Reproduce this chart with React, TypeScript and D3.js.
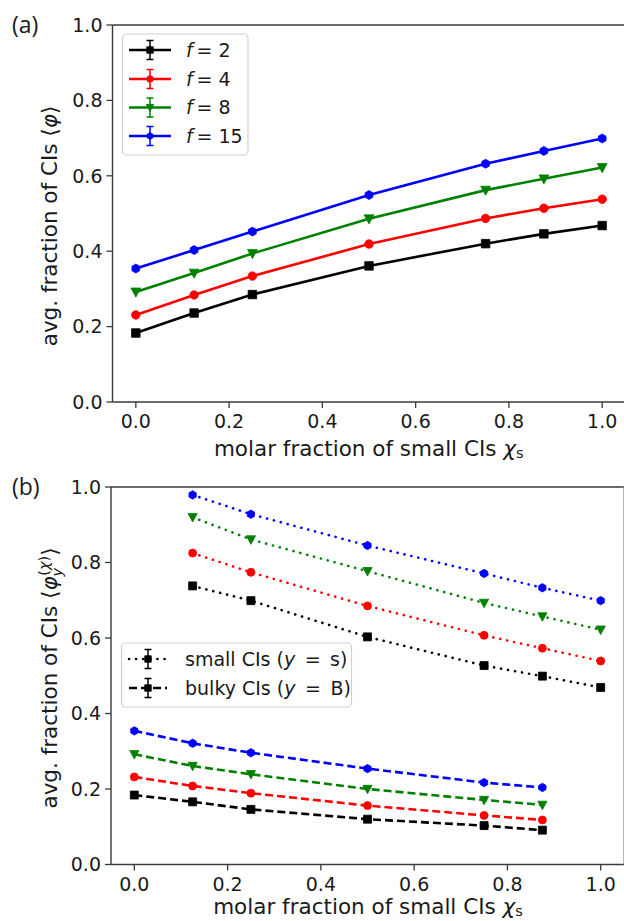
import React from 'react';
import * as d3 from 'd3';

// ---------- data ----------
const xAll = [0, 0.125, 0.25, 0.5, 0.75, 0.875, 1.0];
const xSmall = [0.125, 0.25, 0.5, 0.75, 0.875, 1.0];
const xBulky = [0, 0.125, 0.25, 0.5, 0.75, 0.875];

const fLabels = ['2', '4', '8', '15'];
const seriesColors = ['#000000', '#ff0000', '#008000', '#0000ff'];
const seriesMarkers = ['square', 'circle', 'triangleDown', 'hexagon'];

const totalF2 = [0.183, 0.236, 0.285, 0.361, 0.420, 0.446, 0.468];
const totalF4 = [0.231, 0.284, 0.334, 0.419, 0.487, 0.514, 0.538];
const totalF8 = [0.292, 0.342, 0.394, 0.486, 0.562, 0.592, 0.622];
const totalF15 = [0.354, 0.403, 0.452, 0.549, 0.632, 0.666, 0.699];

const smallF2 = [0.738, 0.699, 0.603, 0.527, 0.499, 0.469];
const smallF4 = [0.825, 0.774, 0.685, 0.607, 0.573, 0.539];
const smallF8 = [0.920, 0.861, 0.777, 0.693, 0.657, 0.622];
const smallF15 = [0.979, 0.928, 0.845, 0.771, 0.733, 0.699];

const bulkyF2 = [0.184, 0.166, 0.146, 0.120, 0.103, 0.091];
const bulkyF4 = [0.232, 0.208, 0.189, 0.156, 0.130, 0.118];
const bulkyF8 = [0.292, 0.261, 0.239, 0.200, 0.171, 0.158];
const bulkyF15 = [0.354, 0.321, 0.296, 0.254, 0.217, 0.204];

const xTicks = [0, 0.2, 0.4, 0.6, 0.8, 1.0];
const yTicks = [0, 0.2, 0.4, 0.6, 0.8, 1.0];
const legendStyles = ['small CIs (', 'bulky CIs ('];
const legendEnds = ['\u2002=\u2002s)', '\u2002=\u2002B)'];

const totals = [totalF2, totalF4, totalF8, totalF15];
const smalls = [smallF2, smallF4, smallF8, smallF15];
const bulkies = [bulkyF2, bulkyF4, bulkyF8, bulkyF15];

const FONT = 'DejaVu Sans';
const SPINE = '#3a3a3a';
const TEXT = '#1a1a1a';
const LABEL_SIZE = 21.5;

function markerPath(kind: string, size: number): string {
  const r = size / 2;
  if (kind === 'square') return `M${-r},${-r}H${r}V${r}H${-r}Z`;
  if (kind === 'circle') return d3.symbol(d3.symbolCircle, Math.PI * r * r)() as string;
  if (kind === 'triangleDown') {
    const h = r * 1.15;
    return `M${-h},${-h * 0.8}L${h},${-h * 0.8}L0,${h * 1.05}Z`;
  }
  const pts = d3.range(6).map((i) => {
    const a = -Math.PI / 2 + (i * Math.PI) / 3;
    return [Math.cos(a) * r * 1.05, Math.sin(a) * r * 1.05];
  });
  return 'M' + pts.map((p) => p.join(',')).join('L') + 'Z';
}

type Series = { xs: number[]; ys: number[]; color: string; marker: string; dash?: string };
const DOT = '0.1,7';
const DASH = '8,4';

function Panel(props: {
  left: number; right: number; top: number; bottom: number;
  series: Series[]; markerSize: number; rightSpine?: boolean; xLabelOffset: number;
  yLabel: React.ReactNode; yLabelY: number; panelTag: string;
  children?: React.ReactNode;
}) {
  const { left, right, top, bottom, series, markerSize } = props;
  const x = d3.scaleLinear().domain([-0.05, 1.05]).range([left, right]);
  const y = d3.scaleLinear().domain([0, 1]).range([bottom, top]);
  const line = d3.line<[number, number]>().x((d) => x(d[0])).y((d) => y(d[1]));
  return (
    <g>
      {series.map((s, i) => (
        <g key={i}>
          <path
            d={line(s.xs.map((v, j) => [v, s.ys[j]] as [number, number])) as string}
            fill="none" stroke={s.color} strokeWidth={2.6}
            strokeDasharray={s.dash} strokeLinecap={s.dash === DOT ? 'round' : 'butt'}
          />
          {s.xs.map((v, j) => (
            <path key={j} d={markerPath(s.marker, markerSize)}
              transform={`translate(${x(v)},${y(s.ys[j])})`} fill={s.color} stroke={s.color} strokeWidth={0.8} />
          ))}
        </g>
      ))}
      <line x1={left} x2={left} y1={top} y2={bottom} stroke={SPINE} strokeWidth={1.4} />
      <line x1={left} x2={right} y1={bottom} y2={bottom} stroke={SPINE} strokeWidth={1.4} />
      <line x1={left} x2={right} y1={top} y2={top} stroke={SPINE} strokeWidth={1.4} />
      {props.rightSpine && <line x1={right} x2={right} y1={top} y2={bottom} stroke="#9a9a9a" strokeWidth={1.4} />}
      {yTicks.map((t) => (
        <g key={'y' + t}>
          <line x1={left - 6} x2={left} y1={y(t)} y2={y(t)} stroke={SPINE} strokeWidth={1.3} />
          <text x={left - 10} y={y(t)} dy="0.36em" textAnchor="end" fontFamily={FONT} fontSize={19} fill={TEXT}>
            {t.toFixed(1)}
          </text>
        </g>
      ))}
      {xTicks.map((t) => (
        <g key={'x' + t}>
          <line x1={x(t)} x2={x(t)} y1={bottom} y2={bottom + 6} stroke={SPINE} strokeWidth={1.3} />
          <text x={x(t)} y={bottom + 26} textAnchor="middle" fontFamily={FONT} fontSize={19} fill={TEXT}>
            {t.toFixed(1)}
          </text>
        </g>
      ))}
      <text x={(left + 625) / 2} y={bottom + props.xLabelOffset} textAnchor="middle" fontFamily={FONT} fontSize={LABEL_SIZE} fill={TEXT}>
        molar fraction of small CIs <tspan fontStyle="italic">χ</tspan>
        <tspan fontSize={14.5} dy={2}>s</tspan>
      </text>
      <text transform={`translate(57,${props.yLabelY}) rotate(-90)`} textAnchor="middle" fontFamily={FONT} fontSize={LABEL_SIZE} fill={TEXT}>
        {props.yLabel}
      </text>
      <text x={12} y={top + 8} fontFamily="Open Sans" fontSize={23} fill={TEXT}>{props.panelTag}</text>
      {props.children}
    </g>
  );
}

function LegendErr(props: { cx: number; cy: number; color: string; marker: string; dash?: string; x1: number; x2: number; size: number }) {
  const { cx, cy, color, marker, dash, x1, x2, size } = props;
  return (
    <g>
      <line x1={x1} x2={x2} y1={cy} y2={cy} stroke={color} strokeWidth={2.6} strokeDasharray={dash} strokeLinecap={dash === DOT ? 'round' : 'butt'} />
      <line x1={cx} x2={cx} y1={cy - 9.5} y2={cy + 9.5} stroke={color} strokeWidth={1.5} />
      <line x1={cx - 3.5} x2={cx + 3.5} y1={cy - 9.5} y2={cy - 9.5} stroke={color} strokeWidth={1.5} />
      <line x1={cx - 3.5} x2={cx + 3.5} y1={cy + 9.5} y2={cy + 9.5} stroke={color} strokeWidth={1.5} />
      <path d={markerPath(marker, size)} transform={`translate(${cx},${cy})`} fill={color} stroke={color} strokeWidth={0.8} />
    </g>
  );
}

export default function App() {
  const topSeries: Series[] = totals.map((ys, i) => ({ xs: xAll, ys, color: seriesColors[i], marker: seriesMarkers[i] }));
  const bottomSeries: Series[] = [
    ...smalls.map((ys, i) => ({ xs: xSmall, ys, color: seriesColors[i], marker: seriesMarkers[i], dash: DOT })),
    ...bulkies.map((ys, i) => ({ xs: xBulky, ys, color: seriesColors[i], marker: seriesMarkers[i], dash: DASH })),
  ];
  const legendRowsTop = [50, 79, 107.5, 136];
  const yLabelB = (
    <>
      avg. fraction of CIs ⟨<tspan fontStyle="italic">φ</tspan>
      <tspan fontStyle="italic" fontSize={14.5} dy={5}>y</tspan>
      <tspan fontSize={14.5} dx={-8} dy={-13}>(<tspan fontStyle="italic">χ</tspan>)</tspan>
      <tspan dy={8}>⟩</tspan>
    </>
  );
  return (
    <svg width={624} height={921} style={{ position: 'absolute', left: 0, top: 0, background: '#fff' }}>
      <rect width={624} height={921} fill="#fff" />
      <Panel left={112.5} right={625.5} top={25} bottom={402} series={topSeries} markerSize={8.5} xLabelOffset={54}
        yLabel={<>avg. fraction of CIs ⟨<tspan fontStyle="italic">φ</tspan>⟩</>} yLabelY={226} panelTag="(a)">
        <rect x={122.5} y={34} width={125.5} height={121} rx={4} fill="#fff" fillOpacity={0.85} stroke="#d0d0d0" strokeWidth={1.2} />
        {fLabels.map((f, i) => (
          <g key={f}>
            <LegendErr cx={150} cy={legendRowsTop[i]} color={seriesColors[i]} marker={seriesMarkers[i]} x1={129} x2={171} size={6.5} />
            <text x={186} y={legendRowsTop[i]} dy="0.36em" fontFamily={FONT} fontSize={19} fill={TEXT}>
              <tspan fontStyle="italic">f</tspan>{'\u2009= ' + f}
            </text>
          </g>
        ))}
      </Panel>
      <Panel left={111} right={624} top={487} bottom={864.5} series={bottomSeries} markerSize={8} rightSpine xLabelOffset={49}
        yLabel={yLabelB} yLabelY={678} panelTag="(b)">
        <rect x={121.5} y={643} width={230} height={64} rx={4} fill="#fff" fillOpacity={0.85} stroke="#d0d0d0" strokeWidth={1.2} />
        {legendStyles.map((lab, i) => {
          const cy = i === 0 ? 659 : 688;
          return (
            <g key={lab}>
              <LegendErr cx={148} cy={cy} color="#000" marker="square" dash={i === 0 ? DOT : DASH} x1={129} x2={167} size={6.5} />
              <text x={185} y={cy} dy="0.36em" fontFamily={FONT} fontSize={19} fill={TEXT}>
                {lab}<tspan fontStyle="italic">y</tspan>{legendEnds[i]}
              </text>
            </g>
          );
        })}
      </Panel>
    </svg>
  );
}
